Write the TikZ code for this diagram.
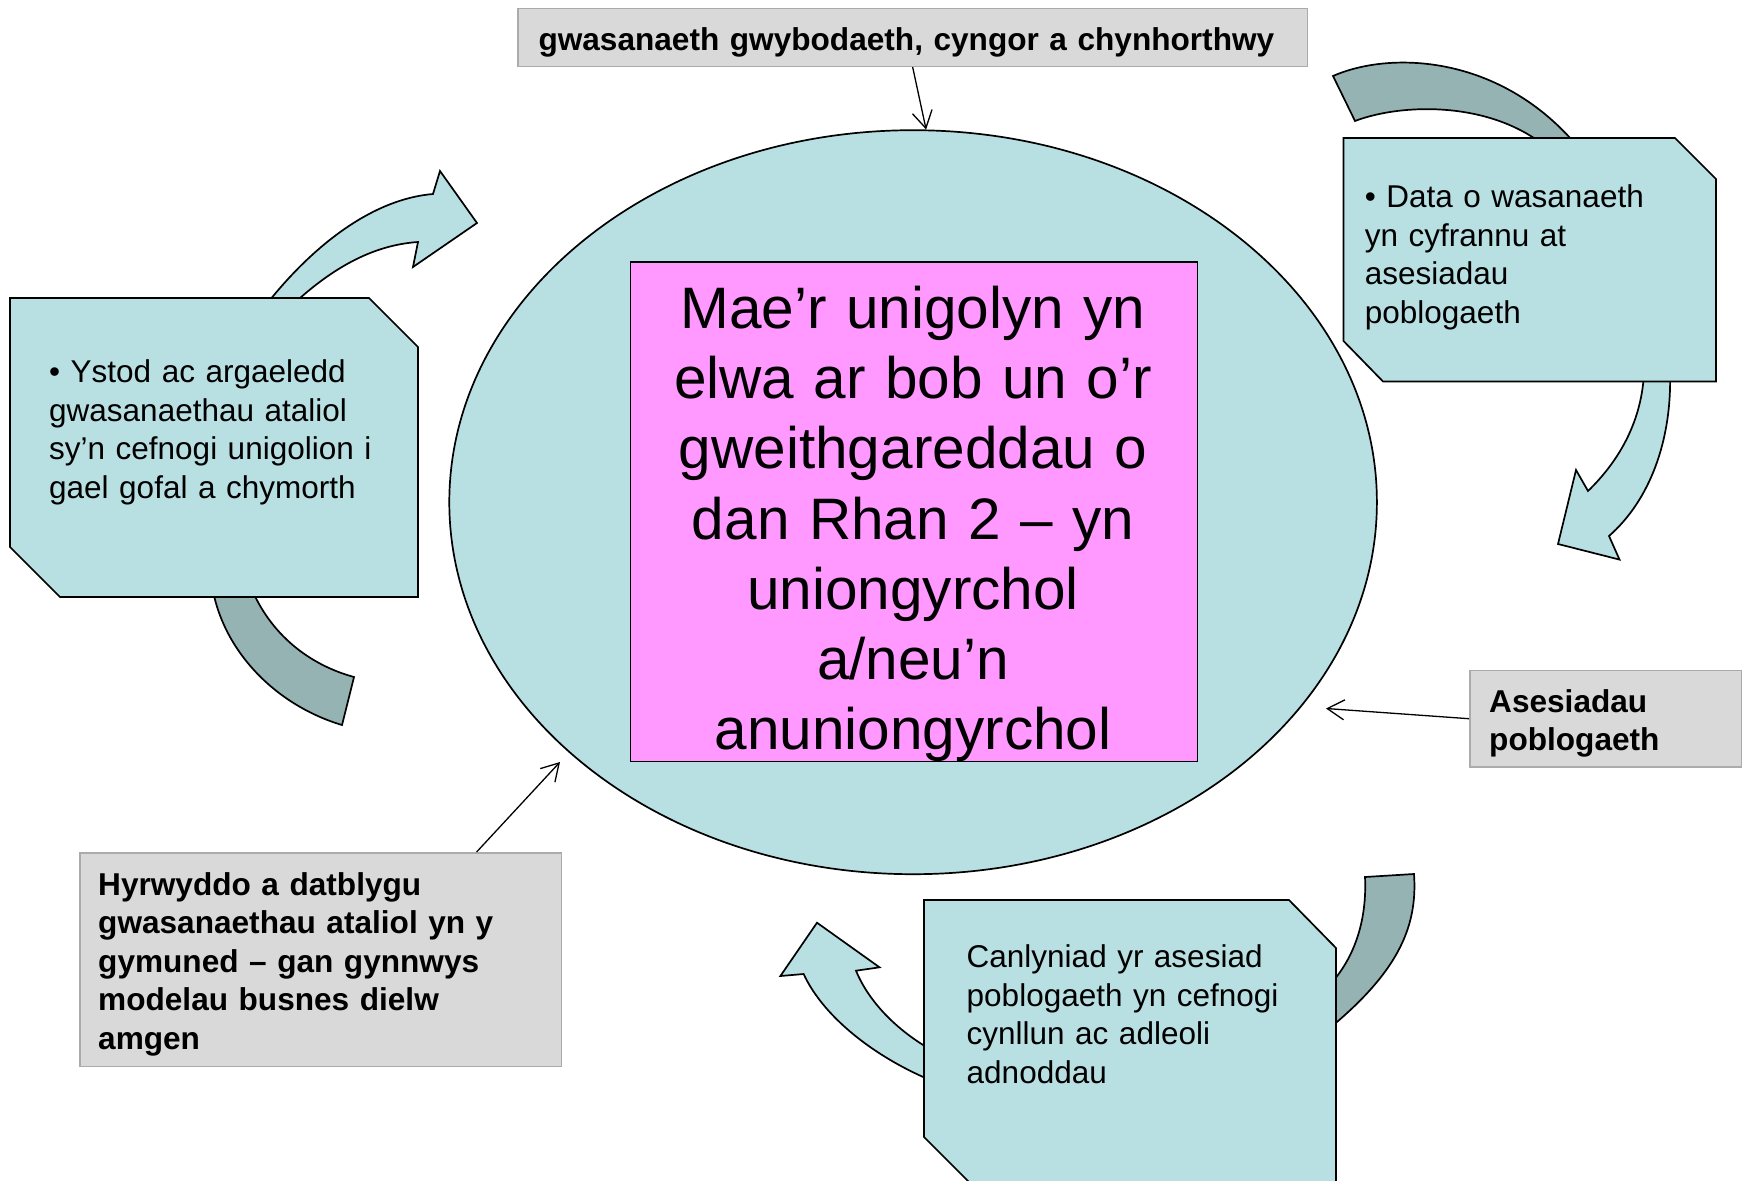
\documentclass[tikz,border=0pt]{standalone}
\usepackage{fontspec}
\setmainfont{Liberation Sans}
\usetikzlibrary{arrows.meta,calc,shapes.geometric}
\definecolor{tealfill}{HTML}{B8DFE2}
\definecolor{darkfill}{HTML}{96B3B4}
\definecolor{greyfill}{HTML}{D9D9D9}
\definecolor{greyline}{HTML}{ABABAB}
\definecolor{pinkfill}{HTML}{FF99FF}
\tikzset{
  shapeline/.style={draw=black, line width=1.7pt, line join=miter},
  lightarrow/.style={shapeline, fill=tealfill},
  darkarrow/.style={shapeline, fill=darkfill},
  snipbox/.style={shapeline, fill=tealfill},
  smalltext/.style={font=\fontsize{31.5}{38.5}\selectfont, inner sep=0pt, align=left, anchor=base west},
  boldtext/.style={smalltext, font=\fontsize{31.6}{38.5}\selectfont\bfseries},
  greybox/.style={draw=greyline, fill=greyfill, line width=1.5pt, inner sep=0pt, anchor=north west},
  conn/.style={line width=1.3pt, -{Straight Barb[length=17pt,width=20pt,line width=1.3pt]}},
}
\begin{document}
\begin{tikzpicture}[x=1pt, y=-1pt]
\useasboundingbox (0,0) rectangle (1744,1180);
\clip (0,0) rectangle (1744,1180);

% curved arrows around the outer boxes (drawn beneath the boxes)
\draw[lightarrow] (262,310) .. controls (312,245) and (373,199) .. (433,194)
  -- (440,171) -- (477,223) -- (413,267) -- (418,242)
  .. controls (373,245) and (330,268) .. (285,312) -- cycle;
\draw[darkarrow] (212,585) .. controls (222,650) and (275,705) .. (342,725)
  -- (354,677) .. controls (310,665) and (270,635) .. (250,585) -- cycle;
\draw[darkarrow] (1333,76) .. controls (1392,50) and (1505,55) .. (1582,152)
  -- (1552,152) .. controls (1495,100) and (1402,103) .. (1355,121) -- cycle;
\draw[lightarrow] (1670,372) .. controls (1672,440) and (1650,500) .. (1609,536)
  -- (1619.5,559.6) -- (1558,544) -- (1576,470) -- (1588,491)
  .. controls (1620,460) and (1642,420) .. (1644,372) -- cycle;
\draw[darkarrow] (1365,877) -- (1414,874) .. controls (1418,930) and (1395,975) .. (1325,1032)
  -- (1325,990) .. controls (1355,960) and (1367,920) .. (1365,877) -- cycle;
\draw[lightarrow] (935,1082) .. controls (880,1060) and (825,1020) .. (803.6,974)
  -- (780.4,976) -- (817,922.7) -- (879.5,967.3) -- (856,970.7)
  .. controls (868,1000) and (895,1030) .. (935,1052) -- cycle;

% central ellipse and its box
\node[ellipse, shapeline, fill=tealfill, minimum width=927.6pt, minimum height=744pt, inner sep=0pt] (core) at (913.1,502.2) {};
\node[rectangle, draw=black, line width=1.3pt, fill=pinkfill, minimum width=567.2pt, minimum height=499.3pt, inner sep=0pt, anchor=north west] (pinkbox) at (629.5,261.4) {};
\node[font=\fontsize{58.5}{70.2}\selectfont, text width=567pt, align=center, inner sep=0pt, anchor=base] (coretext) at (913.1,328.5)
  {Mae’r unigolyn yn\\ elwa ar bob un o’r\\ gweithgareddau o\\ dan Rhan 2 – yn\\ uniongyrchol\\ a/neu’n\\ anuniongyrchol};

% snipped-corner boxes
\draw[snipbox] (10,298) -- (369,298) -- (418,347) -- (418,597) -- (60,597) -- (10,547) -- cycle;
\node[smalltext, text width=365pt] (lefttext) at (49,382.5)
  {• Ystod ac argaeledd\\ gwasanaethau ataliol\\ sy’n cefnogi unigolion i\\ gael gofal a chymorth};

\draw[snipbox] (1343.5,138) -- (1675,138) -- (1716,179) -- (1716,381.5) -- (1383,381.5) -- (1343.5,341) -- cycle;
\node[smalltext, text width=345pt] (righttext) at (1364.7,207.5)
  {• Data o wasanaeth\\ yn cyfrannu at\\ asesiadau\\ poblogaeth};

\draw[snipbox] (924,900) -- (1289,900) -- (1336,948) -- (1336,1190) -- (977,1190) -- (924,1137) -- cycle;
\node[smalltext, text width=365pt] (bottomtext) at (966.5,967.5)
  {Canlyniad yr asesiad\\ poblogaeth yn cefnogi\\ cynllun ac adleoli\\ adnoddau};

% grey label boxes
\node[greybox, minimum width=789.8pt, minimum height=57.8pt] (infobox) at (517,7.8) {};
\node[boldtext, text width=780pt] (infotext) at (538.3,50.5) {gwasanaeth gwybodaeth, cyngor a chynhorthwy};

\node[greybox, minimum width=271.6pt, minimum height=96.7pt] (asebox) at (1469,669.6) {};
\node[boldtext, text width=260pt] (asetext) at (1489,712) {Asesiadau\\ poblogaeth};

\node[greybox, minimum width=481.6pt, minimum height=213.5pt] (hyrbox) at (79,852) {};
\node[boldtext, text width=470pt] (hyrtext) at (98,895)
  {Hyrwyddo a datblygu\\ gwasanaethau ataliol yn y\\ gymuned – gan gynnwys\\ modelau busnes dielw\\ amgen};

% connectors
\coordinate (aseend) at (1326,708.5);
\coordinate (hyrend) at (560,762);
\draw[conn] (infobox.south) -- (core.88.6);
\draw[conn] (asebox.west) -- (aseend);
\draw[conn] ($(hyrbox.north west)!0.823!(hyrbox.north east)$) -- (hyrend);
\end{tikzpicture}
\end{document}
